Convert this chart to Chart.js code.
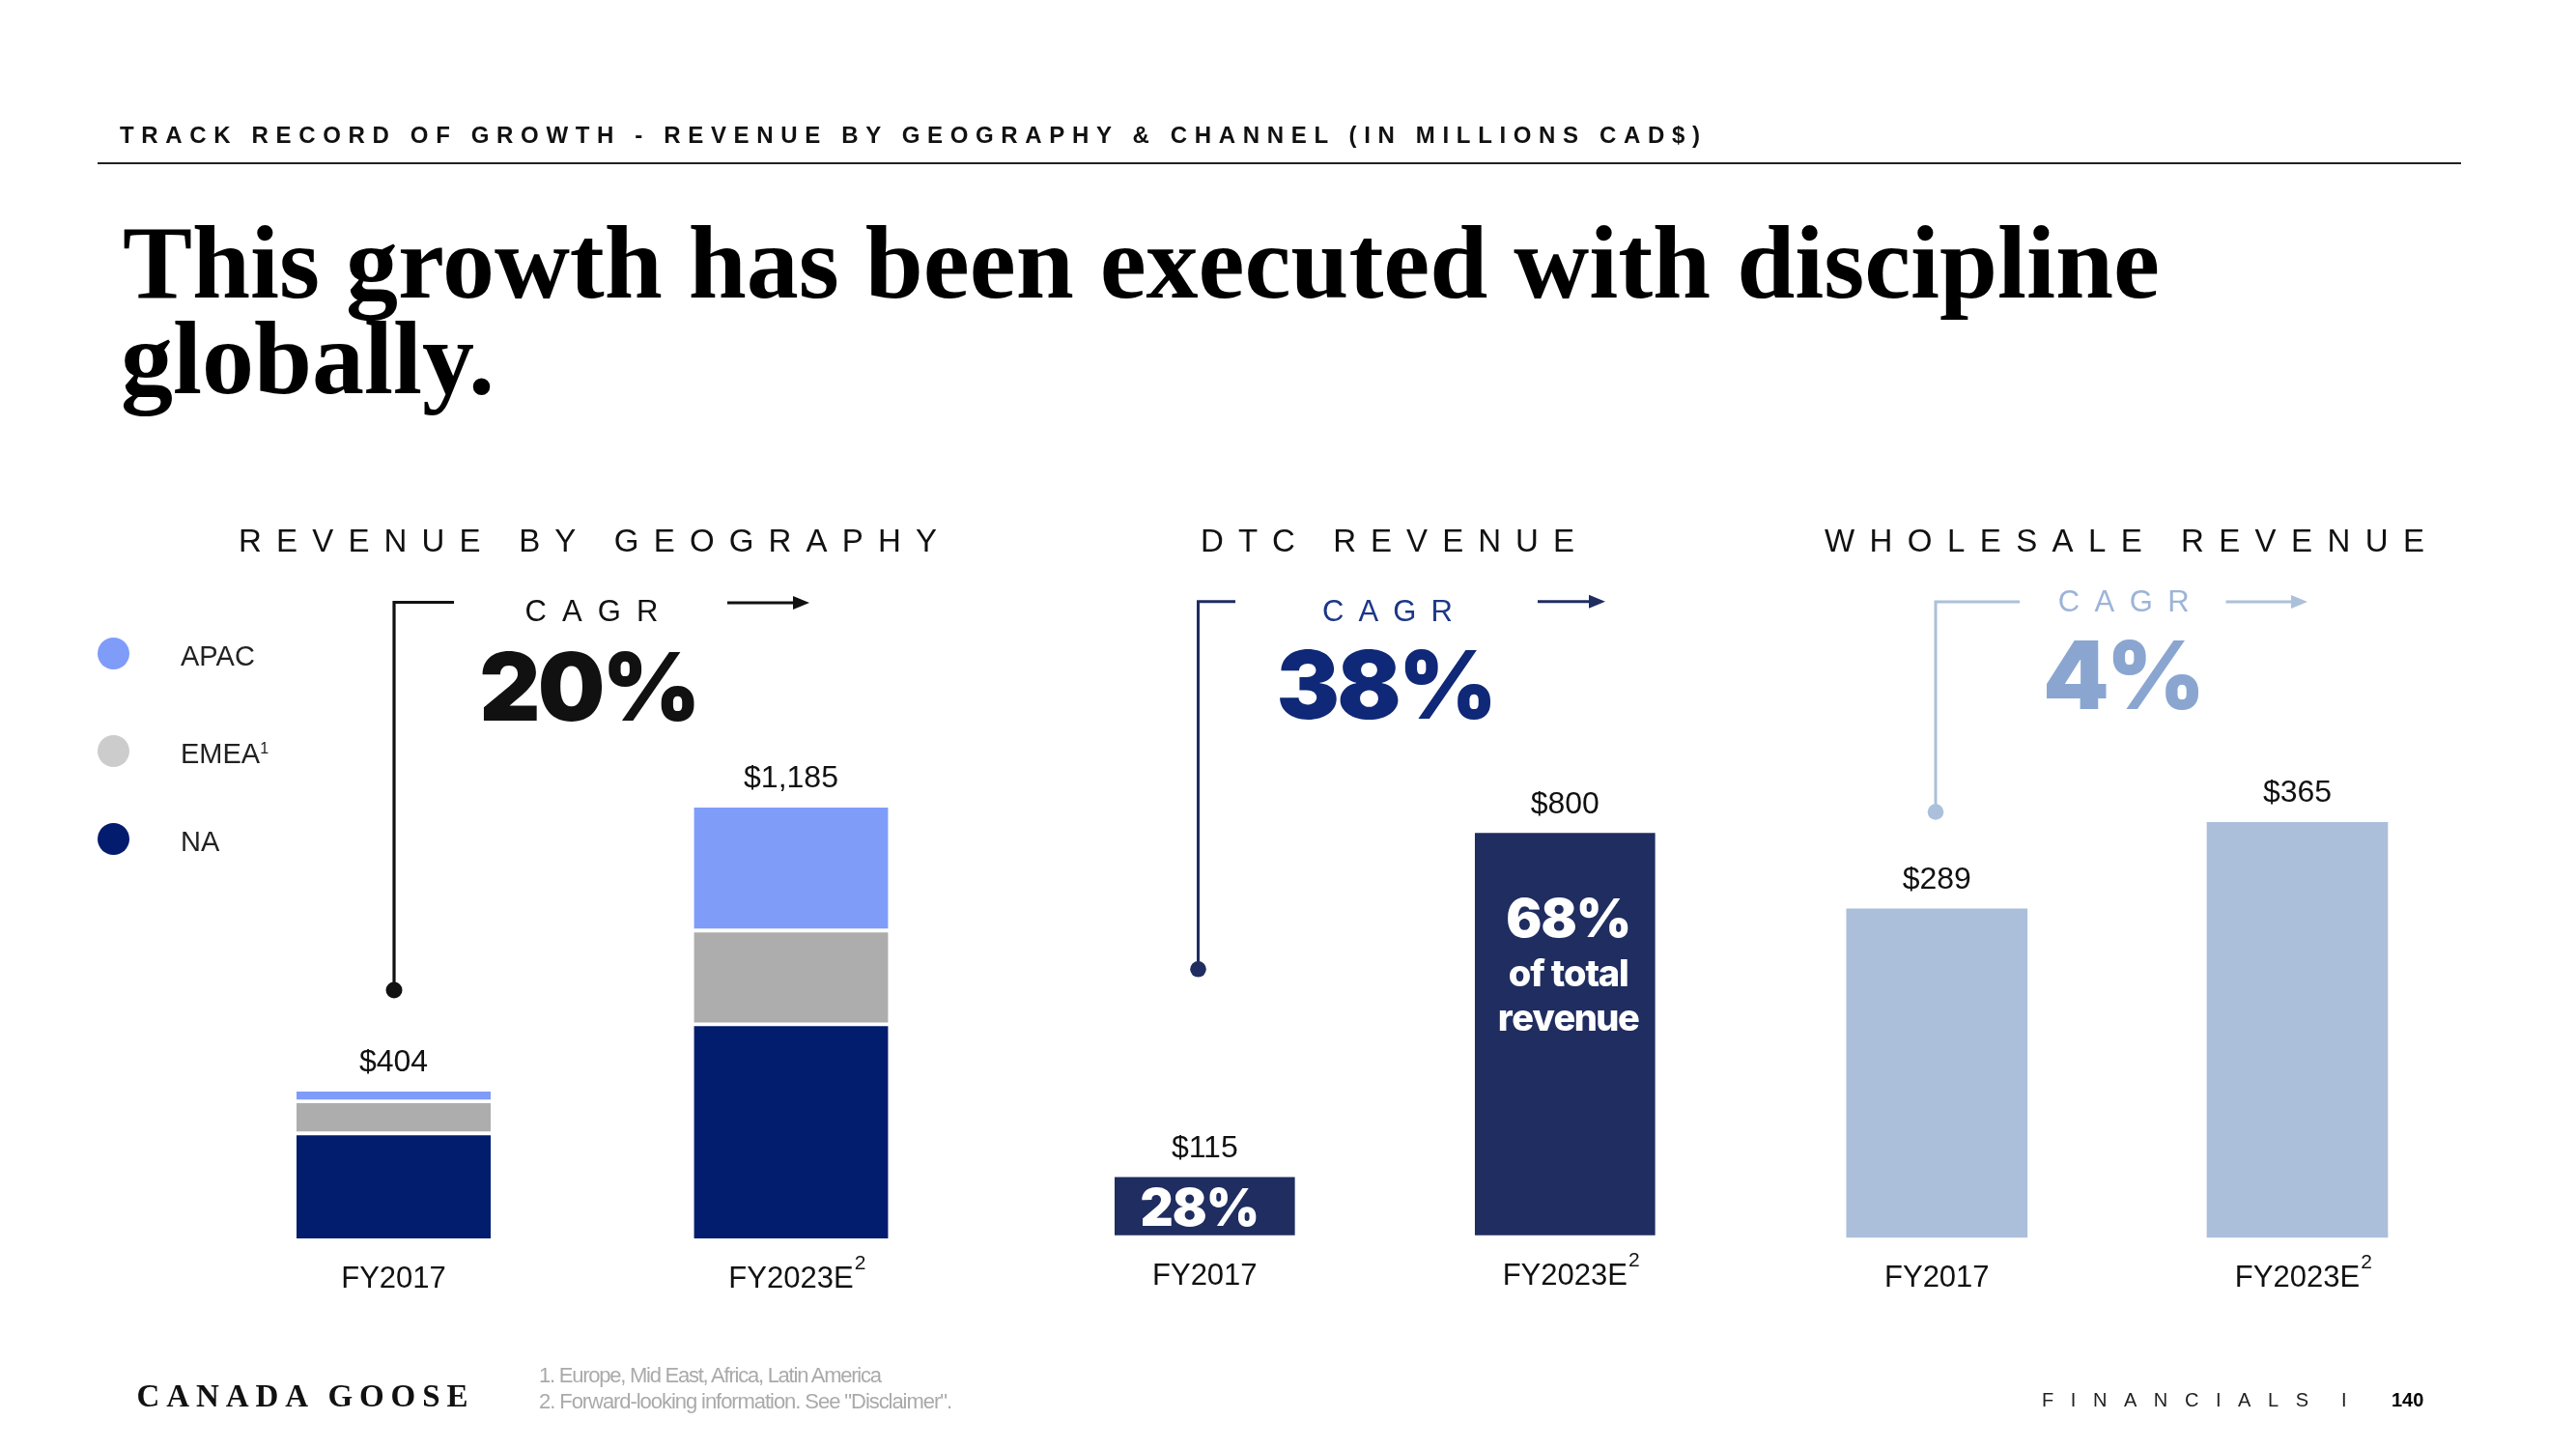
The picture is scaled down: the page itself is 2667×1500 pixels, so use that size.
<!DOCTYPE html>
<html><head><meta charset="utf-8">
<script src="https://cdn.jsdelivr.net/npm/chart.js@4.4.1/dist/chart.umd.min.js"></script>
<style>
html,body{margin:0;padding:0;background:#fff;width:2667px;height:1500px;overflow:hidden;position:relative}
canvas{position:absolute;left:0;top:0}
.t{position:absolute;white-space:nowrap;left:0;top:0}
.m{display:inline-block;width:0;height:0}
.rule{position:absolute;left:101px;top:168px;width:2447px;height:2px;background:#222}
.dot{position:absolute;border-radius:50%}
</style></head><body>
<div class="rule"></div>
<canvas id="geo" width="2667" height="1500"></canvas>
<canvas id="dtc" width="2667" height="1500"></canvas>
<canvas id="whs" width="2667" height="1500"></canvas>
<script>
// ---------------- data ----------------
const categories = ['FY2017', 'FY2023E'];
const categorySup = ['', '2'];
const geoNA = [289, 589];
const geoEMEA = [88, 258];
const geoAPAC = [27, 338];
const dtcRevenue = [115, 800];
const dtcShareOfTotal = ['28%', '68%'];
const wholesaleRevenue = [289, 365];
const geoCAGR = '20%';
const dtcCAGR = '38%';
const wholesaleCAGR = '4%';
const legendLabels = ['APAC', 'EMEA', 'NA'];
const legendSup = ['', '1', ''];

// ---------------- helpers ----------------
const W = 2667, H = 1500;
const SANS = "'Liberation Sans', Arial, sans-serif";
const HEAVY = "Inter, 'Noto Sans', sans-serif";

function htmlText(text, o) {
  const d = document.createElement('div'); d.className = 't';
  d.style.font = o.font; d.style.color = o.color || '#111';
  const s = document.createElement('span');
  if (o.html) s.innerHTML = text; else s.textContent = text;
  const m = document.createElement('span'); m.className = 'm';
  d.appendChild(s); d.appendChild(m); document.body.appendChild(d);
  const n = [...s.textContent].length;
  let sp = o.spacing || 0;
  if (o.width != null && n > 1) {
    const nat = s.getBoundingClientRect().width;
    sp = (o.width - nat) / (n - 1);
  }
  s.style.letterSpacing = sp + 'px';
  const w = s.getBoundingClientRect().width - sp;
  const base = m.getBoundingClientRect().top - d.getBoundingClientRect().top;
  const left = o.align === 'center' ? o.x - w / 2 : o.align === 'right' ? o.x - w : o.x;
  d.style.left = left + 'px'; d.style.top = (o.baseline - base) + 'px';
  return sp;
}

function spacedText(ctx, text, x, y, font, color, o) {
  ctx.save(); ctx.font = font; ctx.fillStyle = color;
  ctx.textBaseline = 'alphabetic'; ctx.textAlign = 'left';
  const chars = [...text];
  const ws = chars.map(c => ctx.measureText(c).width);
  const nat = ws.reduce((a, b) => a + b, 0);
  let sp = o.spacing || 0;
  if (o.width != null && chars.length > 1) sp = (o.width - nat) / (chars.length - 1);
  const total = nat + sp * (chars.length - 1);
  let sx = o.align === 'center' ? x - total / 2 : o.align === 'right' ? x - total : x;
  chars.forEach((c, i) => { ctx.fillText(c, sx, y); sx += ws[i] + sp; });
  ctx.restore();
}

function fmt(v) { return '$' + v.toLocaleString('en-US'); }

// data labels + category labels
const labelsPlugin = {
  id: 'labels',
  afterDatasetsDraw(chart) {
    const ctx = chart.ctx, xs = chart.scales.x, ys = chart.scales.y;
    categories.forEach((c, i) => {
      const x = xs.getPixelForValue(i);
      const total = chart.data.datasets.reduce((a, ds) => a + ds.data[i], 0);
      const top = ys.getPixelForValue(total);
      const bottom = ys.getPixelForValue(0);
      ctx.save();
      ctx.fillStyle = '#111'; ctx.textAlign = 'center'; ctx.textBaseline = 'alphabetic';
      ctx.font = '32px ' + SANS;
      ctx.fillText(fmt(total), x, top - 21);
      ctx.font = '31px ' + SANS;
      ctx.fillText(c, x, bottom + 51);
      if (categorySup[i]) {
        const w = ctx.measureText(c).width;
        ctx.font = '21px ' + SANS; ctx.textAlign = 'left';
        ctx.fillText(categorySup[i], x + w / 2 + 1, bottom + 51 - 19);
      }
      ctx.restore();
    });
  }
};

// section title + CAGR bracket annotation
const annotPlugin = {
  id: 'annot',
  afterDraw(chart, args, o) {
    const ctx = chart.ctx;
    spacedText(ctx, o.title, o.titleX, 570.7, '33px ' + SANS, '#111', { width: o.titleW, align: 'left' });
    ctx.save();
    ctx.strokeStyle = o.line; ctx.fillStyle = o.line; ctx.lineWidth = o.lw;
    ctx.beginPath();
    ctx.moveTo(o.bx, o.dotY); ctx.lineTo(o.bx, o.by); ctx.lineTo(o.bEnd, o.by);
    ctx.stroke();
    ctx.beginPath(); ctx.arc(o.bx, o.dotY, o.dotR, 0, Math.PI * 2); ctx.fill();
    // arrow
    ctx.beginPath(); ctx.moveTo(o.ax1, o.ay); ctx.lineTo(o.ax2 - 14, o.ay); ctx.stroke();
    ctx.beginPath(); ctx.moveTo(o.ax2, o.ay); ctx.lineTo(o.ax2 - 17, o.ay - 7); ctx.lineTo(o.ax2 - 17, o.ay + 7); ctx.closePath(); ctx.fill();
    ctx.restore();
    spacedText(ctx, 'CAGR', o.cx, o.cy, '31px ' + SANS, o.cagrColor, { width: o.cw, align: 'center' });
    spacedText(ctx, o.big, o.bigX, o.bigY, '900 98px ' + HEAVY, o.bigColor, { spacing: -3, align: 'center' });
  }
};

// DTC share text inside bars
const sharePlugin = {
  id: 'share',
  afterDatasetsDraw(chart) {
    const ctx = chart.ctx, xs = chart.scales.x;
    const x0 = xs.getPixelForValue(0) - 5;
    spacedText(ctx, dtcShareOfTotal[0], x0, 1269, '900 53px ' + HEAVY, '#fff', { spacing: -1, align: 'center' });
    const x1 = xs.getPixelForValue(1) + 4;
    spacedText(ctx, dtcShareOfTotal[1], x1, 970, '900 55px ' + HEAVY, '#fff', { spacing: -1, align: 'center' });
    spacedText(ctx, 'of total', x1, 1021, '800 38px ' + HEAVY, '#fff', { width: 125, align: 'center' });
    spacedText(ctx, 'revenue', x1, 1067, '800 38px ' + HEAVY, '#fff', { width: 147, align: 'center' });
  }
};

function opts(area, yMax, annot) {
  return {
    responsive: false, animation: false, devicePixelRatio: 1, events: [],
    layout: { padding: { left: area[0], right: W - area[1], top: area[2], bottom: H - area[3] } },
    plugins: { legend: { display: false }, tooltip: { enabled: false }, annot: annot },
    scales: {
      x: { display: false, stacked: true },
      y: { display: false, stacked: true, min: 0, max: yMax }
    }
  };
}

// ---------------- charts ----------------
new Chart(document.getElementById('geo'), {
  type: 'bar',
  data: {
    labels: categories,
    datasets: [
      { label: 'NA', data: geoNA, backgroundColor: '#021c6e', borderColor: '#fff', borderSkipped: false,
        borderWidth: { top: 2.3, right: 0, bottom: 0, left: 0 }, barThickness: 201 },
      { label: 'EMEA', data: geoEMEA, backgroundColor: '#adadad', borderColor: '#fff', borderSkipped: false,
        borderWidth: { top: 2.3, right: 0, bottom: 2.3, left: 0 }, barThickness: 201 },
      { label: 'APAC', data: geoAPAC, backgroundColor: '#7f9cf9', borderColor: '#fff', borderSkipped: false,
        borderWidth: { top: 0, right: 0, bottom: 2.3, left: 0 }, barThickness: 201 }
    ]
  },
  options: opts([201.75, 1024.75, 717.6, 1282], 1500, {
    title: 'REVENUE BY GEOGRAPHY', titleX: 247, titleW: 723,
    line: '#111', lw: 3.2, bx: 408, by: 623.5, bEnd: 470, dotY: 1025, dotR: 8.5,
    ax1: 753, ax2: 838, ay: 624,
    cx: 612.5, cy: 643.3, cw: 137.8, cagrColor: '#111',
    big: geoCAGR, bigX: 611, bigY: 746, bigColor: '#111'
  }),
  plugins: [labelsPlugin, annotPlugin]
});

new Chart(document.getElementById('dtc'), {
  type: 'bar',
  data: {
    labels: categories,
    datasets: [{ label: 'DTC', data: dtcRevenue, backgroundColor: '#1f2d60', barThickness: 186 }]
  },
  options: opts([1060.8, 1806.8, 758.7, 1278.7], 1000, {
    title: 'DTC REVENUE', titleX: 1243, titleW: 387,
    line: '#1f2d60', lw: 3, bx: 1240.5, by: 622.7, bEnd: 1279, dotY: 1003.3, dotR: 8.3,
    ax1: 1592, ax2: 1662, ay: 622.7,
    cx: 1436.5, cy: 643.4, cw: 135, cagrColor: '#1c3787',
    big: dtcCAGR, bigX: 1435.8, bigY: 744, bigColor: '#0f2877'
  }),
  plugins: [labelsPlugin, annotPlugin, sharePlugin]
});

new Chart(document.getElementById('whs'), {
  type: 'bar',
  data: {
    labels: categories,
    datasets: [{ label: 'Wholesale', data: wholesaleRevenue, backgroundColor: '#abbfda', barThickness: 187 }]
  },
  options: opts([1818.7, 2565.1, 751.2, 1281.3], 450, {
    title: 'WHOLESALE REVENUE', titleX: 1889, titleW: 621,
    line: '#abc0da', lw: 3, bx: 2004, by: 623, bEnd: 2091, dotY: 840.5, dotR: 8.3,
    ax1: 2304.5, ax2: 2389, ay: 623,
    cx: 2198.7, cy: 632.5, cw: 135.7, cagrColor: '#9db4d8',
    big: wholesaleCAGR, bigX: 2199, bigY: 734.4, bigColor: '#8aa6d0'
  }),
  plugins: [labelsPlugin, annotPlugin]
});

// ---------------- page text ----------------
htmlText('TRACK RECORD OF GROWTH - REVENUE BY GEOGRAPHY & CHANNEL (IN MILLIONS CAD$)',
  { x: 124, baseline: 147.7, font: "bold 24px " + SANS, color: '#111', width: 1636 });
const tsp = htmlText('This growth has been executed with discipline',
  { x: 127, baseline: 308.3, font: "bold 108px 'Liberation Serif', serif", color: '#000', width: 2109 });
htmlText('globally.', { x: 125, baseline: 406.7, font: "bold 108px 'Liberation Serif', serif", color: '#000', spacing: tsp });

// legend
const legendColors = ['#7f9cf9', '#cccccc', '#031c6e'];
const legendY = [676, 777, 868];
legendLabels.forEach((l, i) => {
  const d = document.createElement('div'); d.className = 'dot';
  d.style.cssText += `left:${117.3 - 16.5}px;top:${legendY[i] - 16.5}px;width:33px;height:33px;background:${legendColors[i]}`;
  document.body.appendChild(d);
  const txt = l + (legendSup[i] ? `<sup style="font-size:16px;vertical-align:10px;line-height:0">${legendSup[i]}</sup>` : '');
  htmlText(txt, { x: 187, baseline: legendY[i] + 13, font: '29px ' + SANS, color: '#222', html: true });
});

// footer
htmlText('CANADA GOOSE', { x: 141.5, baseline: 1456, font: "bold 33px 'Liberation Serif', serif", color: '#111', width: 343 });
htmlText('1. Europe, Mid East, Africa, Latin America', { x: 558, baseline: 1431, font: '22px ' + SANS, color: '#aaaaaa', width: 355 });
htmlText('2. Forward-looking information. See "Disclaimer".', { x: 558, baseline: 1458, font: '22px ' + SANS, color: '#aaaaaa', width: 428 });
htmlText('FINANCIALS', { x: 2114, baseline: 1456, font: '20px ' + SANS, color: '#222', width: 276 });
htmlText('I', { x: 2424, baseline: 1456, font: '20px ' + SANS, color: '#222' });
htmlText('140', { x: 2476, baseline: 1456, font: 'bold 20px ' + SANS, color: '#000' });
</script>
</body></html>
